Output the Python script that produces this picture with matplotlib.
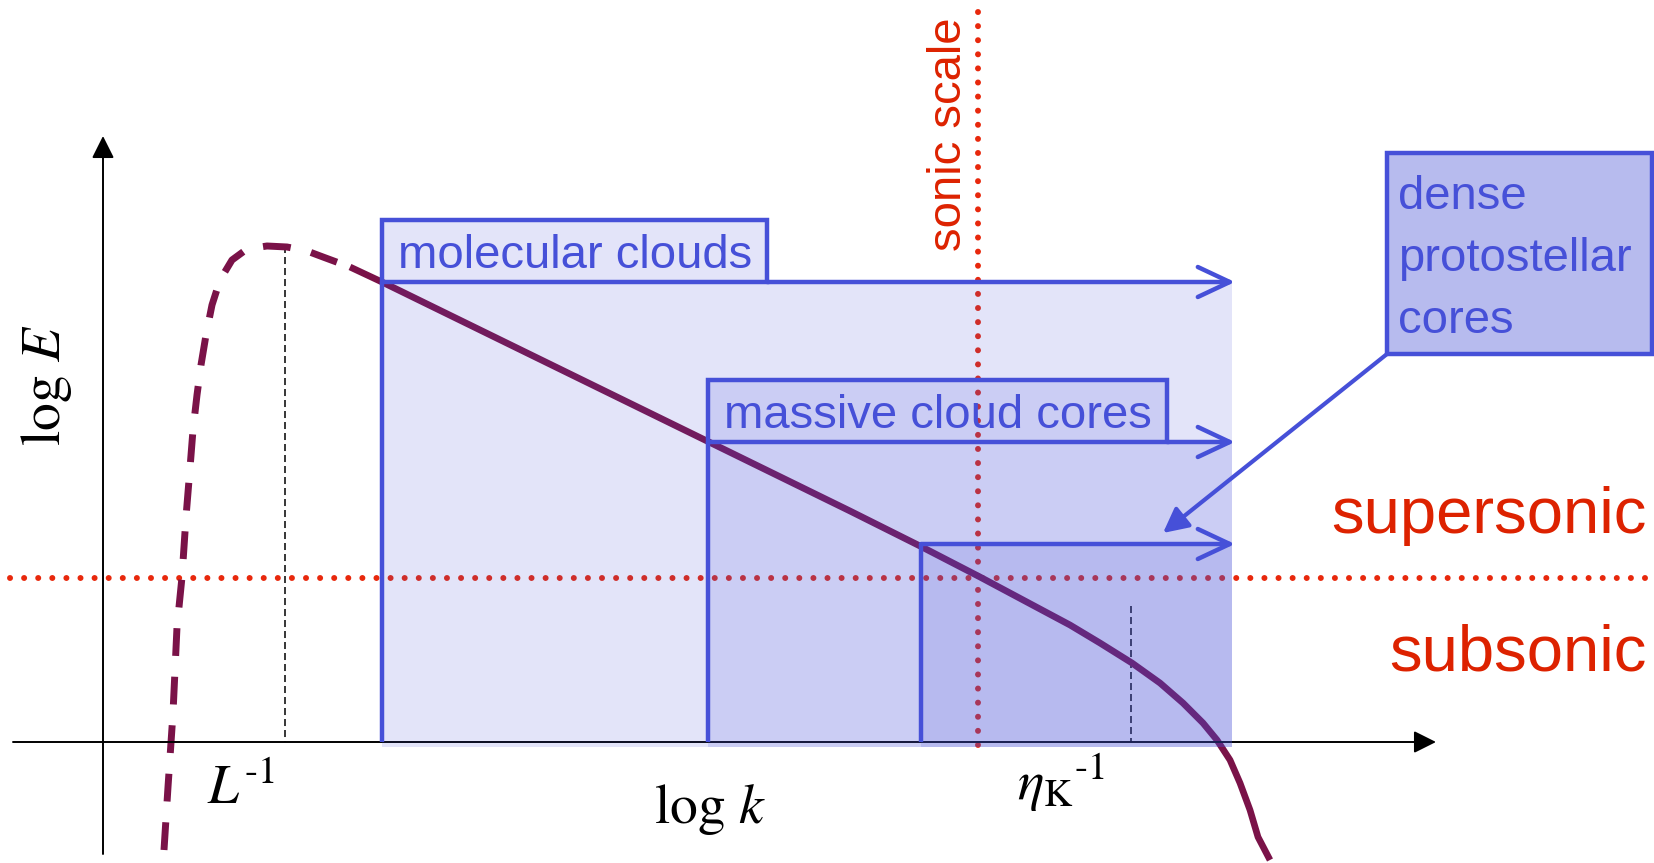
import numpy as np
import matplotlib.pyplot as plt
from matplotlib.patches import Rectangle

plt.rcParams['font.family'] = ['Liberation Sans', 'DejaVu Sans']
plt.rcParams['mathtext.fontset'] = 'stix'

# sketch coordinates (pixels of the original slide, y pointing down)
W, H = 1654, 863
x_axis_y = 742
y_axis_x = 103

# energy spectrum: dashed large-scale part and solid inertial/dissipation part
dash_x = [164, 168, 173, 177, 182, 186, 190, 193, 197, 201, 206, 212, 220, 232, 247, 267,
          287, 307, 323, 350]
dash_y = [850, 787, 713, 627, 577, 517, 468, 430, 395, 365, 335, 305, 280, 260, 249, 246,
          247, 251, 257, 267]
solid_x = [350, 382, 707, 850, 920, 980, 1040, 1070, 1100, 1132, 1160, 1183, 1203, 1217,
           1230, 1240, 1250, 1258, 1270]
solid_y = [267, 282, 441, 511, 546, 577, 609, 625, 643, 663, 683, 703, 723, 740,
           760, 783, 810, 837, 860]

# scale ranges (left edge, top) and label boxes
region_names = ['molecular clouds', 'massive cloud cores']
region_left = [382, 708, 921]
region_top = [282, 442, 544]
region_right = 1232
region_bottom = 747
label_x0 = [382, 708]
label_y0 = [220, 380]
label_x1 = [767, 1167]

dense_lines = ['dense', 'protostellar', 'cores']
dense_box = (1387, 153, 1652, 354)

L_x, L_top = 285, 246        # integral scale marker
eta_x, eta_top = 1131, 606   # Kolmogorov scale marker
sonic_x = 978
sonic_y = 578

blue = '#4650D8'
red_dot = '#E8280C'
red_txt = '#DD2200'
curve_c = '#7A1248'

fig = plt.figure(figsize=(16.54, 8.63), dpi=100)
ax = fig.add_axes([0, 0, 1, 1])
ax.set_xlim(0, W)
ax.set_ylim(H, 0)
ax.axis('off')

# axes with arrows
ax.annotate('', xy=(y_axis_x, 136), xytext=(y_axis_x, 854),
            arrowprops=dict(arrowstyle='-|>,head_length=0.4,head_width=0.2', lw=1.4,
                            color='k', mutation_scale=34, shrinkA=0, shrinkB=0), zorder=3)
ax.annotate('', xy=(1436, x_axis_y), xytext=(13, x_axis_y),
            arrowprops=dict(arrowstyle='-|>,head_length=0.4,head_width=0.2', lw=1.4,
                            color='k', mutation_scale=34, shrinkA=0, shrinkB=0), zorder=3)

# red dotted sonic lines
ax.plot([10, W], [sonic_y, sonic_y], color=red_dot, lw=4.3, dashes=(0.01, 2.35),
        dash_capstyle='round', zorder=2)
ax.plot([sonic_x, sonic_x], [12, 745], color=red_dot, lw=4.3, dashes=(0.01, 2.35),
        dash_capstyle='round', zorder=2)

# black dashed scale markers
ax.plot([L_x, L_x], [L_top, x_axis_y], color='k', lw=1.1, dashes=(4.6, 2.6), zorder=2)
ax.plot([eta_x, eta_x], [eta_top, x_axis_y], color='k', lw=1.1, dashes=(4.6, 2.6), zorder=2)

# spectrum curve
ax.plot(dash_x, dash_y, color=curve_c, lw=5.0, dashes=(4.0, 3.0), dash_capstyle='butt',
        dash_joinstyle='round', zorder=2)
ax.plot(solid_x, solid_y, color=curve_c, lw=4.8, solid_joinstyle='round',
        solid_capstyle='butt', zorder=2)

# translucent scale ranges
for x0, y0 in zip(region_left, region_top):
    ax.add_patch(Rectangle((x0, y0), region_right - x0, region_bottom - y0,
                           facecolor=blue, alpha=0.15, edgecolor='none', zorder=4))

# outlines and arrows of each range
for x0, y0 in zip(region_left, region_top):
    ax.plot([x0, x0], [y0, x_axis_y], color=blue, lw=3.2, solid_capstyle='butt', zorder=5)
for i, name in enumerate(region_names):
    ax.add_patch(Rectangle((label_x0[i], label_y0[i]), label_x1[i] - label_x0[i],
                           region_top[i] - label_y0[i], facecolor=blue, alpha=0.15,
                           edgecolor='none', zorder=4))
    ax.add_patch(Rectangle((label_x0[i], label_y0[i]), label_x1[i] - label_x0[i],
                           region_top[i] - label_y0[i], facecolor='none',
                           edgecolor=blue, lw=3.2, zorder=5))
    ax.text(label_x0[i] + 16, region_top[i] - 14, name, color=blue, fontsize=34,
            ha='left', va='baseline', zorder=6)
arrow_start = [label_x1[0], label_x1[1], region_left[2]]
for xs, y0 in zip(arrow_start, region_top):
    ax.annotate('', xy=(1235, y0), xytext=(xs, y0),
                arrowprops=dict(arrowstyle='->,head_length=1.15,head_width=0.54', lw=3.2,
                                color=blue, mutation_scale=20, shrinkA=0, shrinkB=0), zorder=5)

# dense protostellar cores box with pointer
bx0, by0, bx1, by1 = dense_box
ax.add_patch(Rectangle((bx0, by0), bx1 - bx0, by1 - by0, facecolor='#B7BBEE',
                       edgecolor=blue, lw=3.2, zorder=5))
for j, line in enumerate(dense_lines):
    ax.text(bx0 + 11, 209 + 62 * j, line, color=blue, fontsize=34,
            ha='left', va='baseline', zorder=6)
ax.annotate('', xy=(1163, 533), xytext=(bx0, by1),
            arrowprops=dict(arrowstyle='-|>,head_length=0.75,head_width=0.38', lw=3.0,
                            color=blue, mutation_scale=20, shrinkA=0, shrinkB=0), zorder=5)

# red annotations
ax.text(961, 134, 'sonic scale', color=red_txt, fontsize=34, rotation=90,
        rotation_mode='anchor', ha='center', va='baseline', zorder=6)
ax.text(1647, 533, 'supersonic', color=red_txt, fontsize=47, ha='right', va='baseline')
ax.text(1647, 670, 'subsonic', color=red_txt, fontsize=47, ha='right', va='baseline')

# axis labels
ax.text(60, 385, r'$\log\,E$', fontsize=40, rotation=90, rotation_mode='anchor',
        ha='center', va='baseline')
ax.text(710, 823, r'$\log\,k$', fontsize=40, ha='center', va='baseline')
ax.text(241, 804, r'$L^{\text{-}1}$', fontsize=40, ha='center', va='baseline')
ax.text(1061, 800, r'${\eta_{\mathrm{K}}}^{\text{-}1}$', fontsize=40, ha='center', va='baseline')

fig.savefig('out.png', dpi=100)
